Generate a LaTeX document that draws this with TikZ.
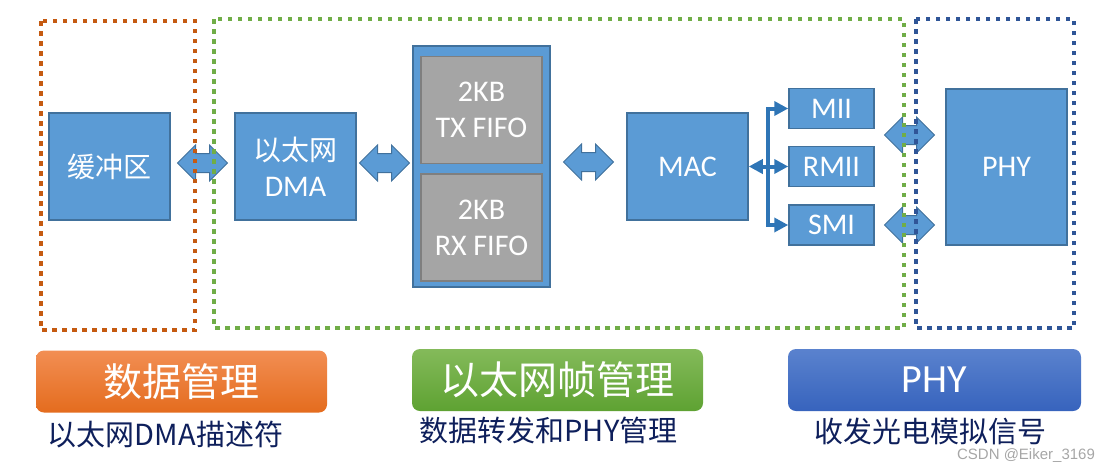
\documentclass[tikz,border=0pt]{standalone}
\usepackage{fontspec}
\setmainfont{Carlito}
\newfontfamily\cjk{Noto Sans CJK SC}
\newfontfamily\wmfont{Liberation Sans}
\usetikzlibrary{shapes.arrows,arrows.meta,calc}
\definecolor{blkfill}{HTML}{5B9BD5}
\definecolor{blkline}{HTML}{41719C}
\definecolor{fifofill}{HTML}{A5A5A5}
\definecolor{fifoline}{HTML}{7F7F7F}
\definecolor{busblue}{HTML}{2E75B6}
\definecolor{dotorange}{HTML}{C55A11}
\definecolor{dotgreen}{HTML}{70AD47}
\definecolor{dotblue}{HTML}{2F5597}
\definecolor{subtext}{HTML}{0E1F5B}
\definecolor{ortop}{HTML}{F28E53}
\definecolor{orbot}{HTML}{E46C1E}
\definecolor{grtop}{HTML}{84BA5A}
\definecolor{grbot}{HTML}{5EA232}
\definecolor{bltop}{HTML}{5A82CE}
\definecolor{blbot}{HTML}{3763BD}

\begin{document}
\begin{tikzpicture}[x=1pt,y=-1pt,
  blk/.style={draw=blkline,fill=blkfill,line width=1.5pt,text=white,align=center,inner sep=0pt,font=\fontsize{30}{36}\selectfont},
  fifo/.style={blk,draw=fifoline,fill=fifofill,minimum width=121,minimum height=107},
  dbl/.style={double arrow,draw=blkline,fill=blkfill,line width=1pt,minimum height=50,minimum width=35,double arrow head extend=8.5,inner xsep=0pt,inner ysep=9pt},
  dotbox/.style={line width=4.5pt,dash pattern=on 4.5pt off 5.5pt},
  bus/.style={draw=busblue,line width=4pt},
  title/.style={rounded corners=8pt,minimum width=291,minimum height=62,text=white,font=\cjk\fontsize{39}{44}\selectfont},
  note/.style={text=subtext,font=\cjk\fontsize{29}{34}\selectfont}]
\useasboundingbox (0,0) rectangle (1112,472);
\newcommand{\tip}{Triangle[length=14pt,width=14pt]}
\node[blk,minimum width=121,minimum height=107,font=\cjk\fontsize{28}{34}\selectfont] (buf) at (109.5,166.5) {缓冲区};
\node[blk,minimum width=121,minimum height=107] (dma) at (295.5,166.5) {{\cjk\fontsize{28}{36}\selectfont 以太网}\\DMA};
\node[blk,minimum width=137,minimum height=241] (fifo) at (481.5,166.5) {};
\node[fifo] (tx) at (481.5,110) {2KB\\TX FIFO};
\node[fifo] (rx) at (481.5,227.5) {2KB\\RX FIFO};
\node[blk,minimum width=121,minimum height=107] (mac) at (687.5,166.5) {MAC};
\foreach \name/\y in {MII/108.5,RMII/166.5,SMI/225}
  {
    \node[blk,minimum width=85,minimum height=40] (\name) at (831.5,\y) {\name};
  }
\node[blk,minimum width=121,minimum height=156] (phy) at (1006.5,167) {PHY};

\node[dbl] (bufdma) at ($(buf.east)!0.5!(dma.west)+(0,-3.5)$) {};
\node[dbl] (dmafifo) at ($(dma.east)!0.5!(fifo.west)+(0,-3.5)$) {};
\node[dbl] (fifomac) at ($(fifo.east)!0.5!(mac.west)+(0,-4.5)$) {};
\node[dbl] (miiphy) at (909.5,135) {};
\node[dbl] (smiphy) at (909.5,225) {};

\coordinate (bus) at (768,166.5);
\draw[bus,{\tip}-{\tip}] (mac.east) -- (RMII.west);
\foreach \name in {MII,SMI}
  {
    \draw[bus,-{\tip}] (bus) |- (\name.west);
  }

\draw[dotbox,dotorange] (41,21) rectangle (195,330);
\draw[dotbox,dotgreen] (214,19) rectangle (904,328);
\draw[dotbox,dotblue] (916,19) rectangle (1074,328);

\node[title,top color=ortop,bottom color=orbot] (data) at (181.5,381.5) {数据管理};
\node[title,top color=grtop,bottom color=grbot] (frame) at (557.5,380) {以太网帧管理};
\node[title,top color=bltop,bottom color=blbot,minimum width=293,font=\fontsize{40}{44}\selectfont] (phyt) at (934.5,380) {PHY};
\node[note] (datanote) at (165.5,435) {以太网DMA描述符};
\node[note] (framenote) at (548.5,430) {数据转发和PHY管理};
\node[note] (phynote) at (930,431) {收发光电模拟信号};
\node[text=gray!70,font=\wmfont\fontsize{15}{18}\selectfont] (mark) at (1026,456) {CSDN @Eiker\_3169};
\end{tikzpicture}
\end{document}
